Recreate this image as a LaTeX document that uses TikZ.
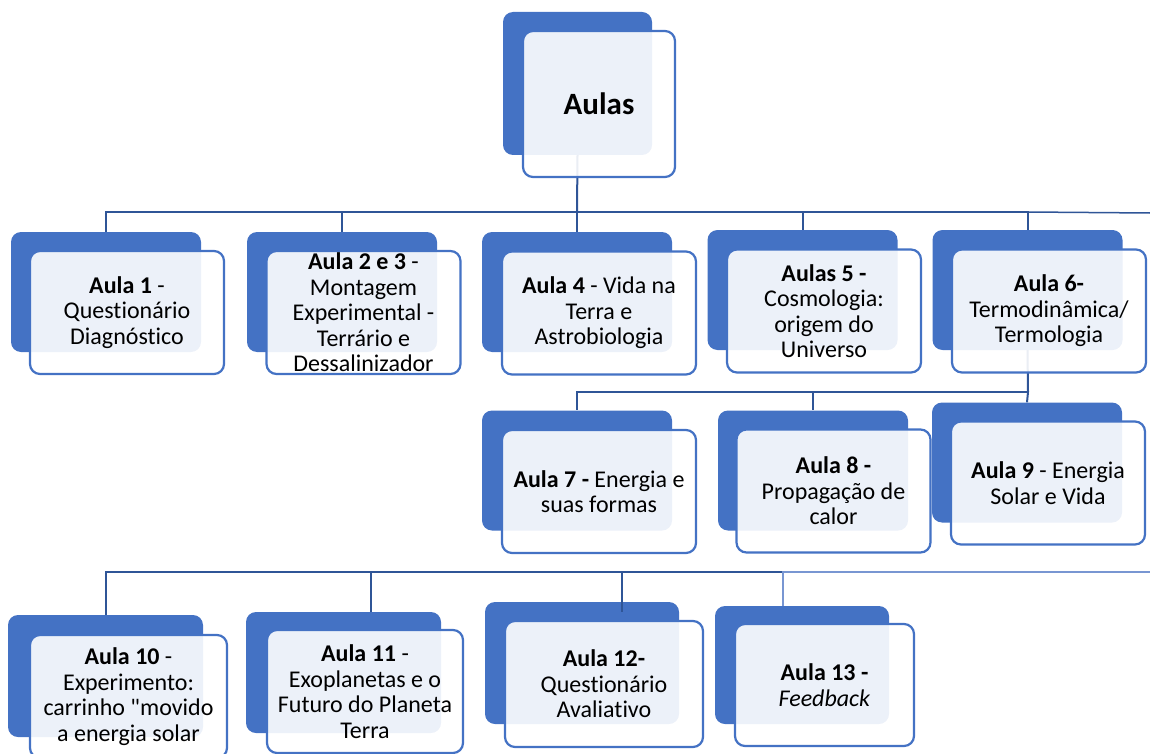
\documentclass[tikz,border=0pt]{standalone}
\usepackage{fontspec}
\setmainfont{Carlito}[Ligatures={NoCommon}]
\definecolor{aulablue}{RGB}{68,114,196}
\definecolor{linkblue}{RGB}{47,85,151}
\definecolor{palelink}{RGB}{120,150,210}
\newcommand\aulafont{\fontsize{24}{25.5}\selectfont}
\begin{document}
\begin{tikzpicture}[x=1pt, y=-1pt,
    back/.style={fill=aulablue, rounded corners=10pt, inner sep=0pt,
                 minimum width=190pt, minimum height=120pt},
    front/.style={draw=aulablue, line width=2.2pt, fill=white, fill opacity=.9,
                  text opacity=1, rounded corners=10pt, inner sep=0pt, align=center,
                  minimum width=194pt, minimum height=123pt, font=\aulafont},
    link/.style={draw=linkblue, line width=2pt}]
  \useasboundingbox (0,0) rectangle (1150,754);
  \node[back, minimum width=149pt, minimum height=143pt] (b0) at (577.5,83.5) {};
  \node[back] (b1) at (106,292) {};
  \node[back] (b2) at (342,292) {};
  \node[back] (b4) at (577,292) {};
  \node[back] (b5) at (802.5,290) {};
  \node[back] (b6) at (1027.5,290) {};
  \node[back] (b7) at (577,470.5) {};
  \node[back] (b8) at (813,470.5) {};
  \node[back] (b9) at (1027,462.5) {};
  \node[back, minimum width=195pt, minimum height=122pt] (b10) at (105.5,676) {};
  \node[back, minimum width=195pt, minimum height=121pt] (b11) at (343.5,672.5) {};
  \node[back, minimum width=194pt, minimum height=122pt] (b12) at (582,663) {};
  \node[back, minimum width=174pt, minimum height=118pt] (b13) at (802,665) {};
  \coordinate (r1) at (577,212);
  \coordinate (r1end) at (1150,213);
  \coordinate (r2) at (1028,392);
  \coordinate (r3) at (1150,572);
  \draw[link] (b0.south) -- (r1);
  \draw[link] (r1) -| (b1.north);
  \draw[link] (r1) -| (b2.north);
  \draw[link] (r1) -- (b4.north);
  \draw[link] (r1) -| (b5.north);
  \draw[link] (r1) -| (b6.north);
  \draw[link, line width=1.5pt] (b6.north |- r1) -- (r1end);
  \draw[link] (b6.south) -- (r2);
  \draw[link] (r2) -| (b7.north);
  \draw[link] (r2) -| (b8.north);
  \draw[link] (r2) -- (b9.north);
  \draw[link] (r3) -| (b10.north);
  \draw[link] (r3) -| ([xshift=27.5pt]b11.north);
  \draw[link] (r3) -| ([xshift=40pt,yshift=-10pt]b12.north);
  \draw[link, draw=palelink, line width=1.5pt] (r3) -| ([xshift=-19pt]b13.north);
  \node[front, minimum width=152pt, minimum height=146pt,
        font=\fontsize{31}{36}\selectfont\bfseries] (f0) at (599,104) {Aulas};
  \node[front] (f1) at (127,312.5) {\textbf{Aula 1} -\\Questionário\\Diagnóstico};
  \node[front] (f2) at (363.5,312.5) {\textbf{Aula 2 e 3} -\\Montagem\\Experimental -\\Terrário e\\Dessalinizador};
  \node[front] (f4) at (599,313) {\textbf{Aula 4} - Vida na\\Terra e\\Astrobiologia};
  \node[front] (f5) at (824,311) {\textbf{Aulas 5 -}\\Cosmologia:\\origem do\\Universo};
  \node[front] (f6) at (1049,311) {\textbf{Aula 6-}\\Termodinâmica/\\Termologia};
  \node[front] (f7) at (599,491.5) {\textbf{Aula 7 -} Energia e\\suas formas};
  \node[front] (f8) at (833.5,491) {\textbf{Aula 8 -}\\Propagação de\\calor};
  \node[front] (f9) at (1048,483) {\textbf{Aula 9} - Energia\\Solar e Vida};
  \node[front, minimum width=197pt] (f10) at (128.5,696.5) {\textbf{Aula 10} -\\Experimento:\\carrinho \textquotedbl movido\\a energia solar};
  \node[front, minimum width=196pt] (f11) at (365,691.5) {\textbf{Aula 11} -\\Exoplanetas e o\\Futuro do Planeta\\Terra};
  \node[front, minimum width=198pt, minimum height=126pt] (f12) at (604,684) {\textbf{Aula 12-}\\Questionário\\Avaliativo};
  \node[front, minimum width=179pt, minimum height=122pt] (f13) at (824.5,685) {\textbf{Aula 13 -}\\\textit{Feedback}};
\end{tikzpicture}
\end{document}
